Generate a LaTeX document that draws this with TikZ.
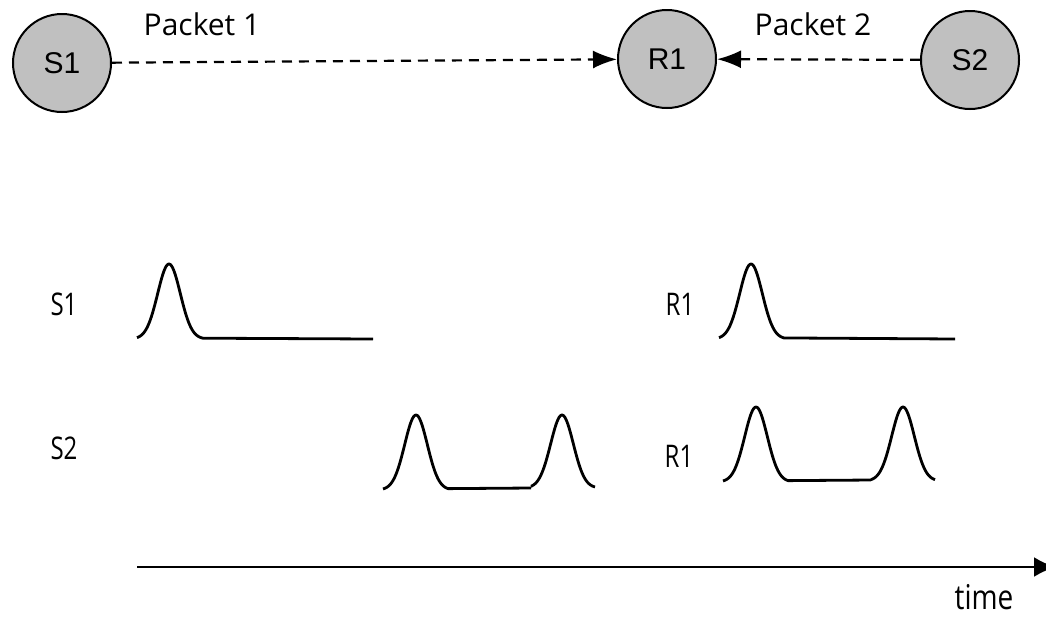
\documentclass[tikz,border=0pt]{standalone}
\usepackage{fontspec}
\usepackage{graphicx}
\setmainfont{Open Sans}
\newfontfamily\circfont{Liberation Sans}
\usetikzlibrary{arrows.meta}
\tikzset{
  host/.style={circle, draw=black, line width=2pt, fill={rgb,255:red,192;green,192;blue,192}, minimum size=98pt, inner sep=0pt, font=\circfont\fontsize{30}{34}\selectfont},
  lbl/.style={font=\fontsize{24}{30}\selectfont, inner sep=0pt},
  pkt/.style={dashed, dash pattern=on 10pt off 7pt, line width=2.2pt, -{Latex[length=24pt,width=18pt]}},
  wave/.style={line width=2.8pt, line join=round},
  axis/.style={line width=2.8pt, -{Latex[length=22pt,width=20pt]}}
}
\begin{document}
\begin{tikzpicture}[x=1pt,y=-1pt]
\useasboundingbox (0,0) rectangle (1046,619);
% hosts
\node[host] (s1) at (62,63) {S1};
\node[host] (r1) at (667,59) {R1};
\node[host] (s2) at (970,60) {S2};
\draw[pkt] (s1) -- (r1);
\draw[pkt] (s2) -- (r1);
\node[lbl, font=\fontsize{30}{34}\selectfont] (p1) at (202,24) {Packet 1};
\node[lbl, font=\fontsize{30}{34}\selectfont] (p2) at (813,24) {Packet 2};
% row labels
\node[lbl] (ls1) at (64,304) {\scalebox{1}[1.3]{S1}};
\node[lbl] (lr1a) at (680,304) {\scalebox{1}[1.3]{R1}};
\node[lbl] (ls2) at (64,448) {\scalebox{1}[1.3]{S2}};
\node[lbl] (lr1b) at (679,456) {\scalebox{1}[1.3]{R1}};
% waveforms
\draw[wave] plot[domain=137:203, samples=60, smooth] ({\x},{339-75*exp(-((\x-169)/16)^2)}) -- (373,339);
\draw[wave] plot[domain=719:784, samples=60, smooth] ({\x},{339-75*exp(-((\x-751)/16)^2)}) -- (955,339);
\draw[wave] plot[domain=383:448, samples=60, smooth] ({\x},{490-75*exp(-((\x-416)/16)^2)}) -- (531,488)
  plot[domain=531:595, samples=60, smooth] ({\x},{488-73*exp(-((\x-562)/16)^2)});
\draw[wave] plot[domain=723:788, samples=60, smooth] ({\x},{482-75*exp(-((\x-756)/16)^2)}) -- (871,480)
  plot[domain=871:935, samples=60, smooth] ({\x},{481-74*exp(-((\x-903)/16)^2)});
% time axis
\coordinate (t0) at (137,567);
\coordinate (t1) at (1056,567);
\draw[axis] (t0) -- (t1);
\node[lbl, font=\fontsize{28}{32}\selectfont] (time) at (984,597) {\scalebox{1}[1.22]{time}};
\end{tikzpicture}
\end{document}
